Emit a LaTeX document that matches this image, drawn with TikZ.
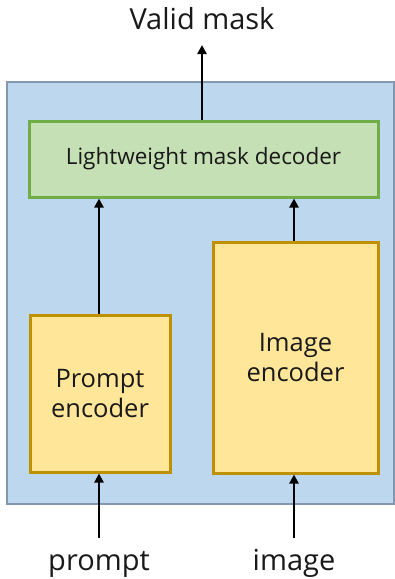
\documentclass[tikz,border=0pt]{standalone}
\usepackage{fontspec}
\setmainfont{Open Sans}
\usetikzlibrary{arrows.meta}
\definecolor{bgblue}{HTML}{BDD7EE}
\definecolor{bgborder}{HTML}{8497B0}
\definecolor{decfill}{HTML}{C5E0B4}
\definecolor{decborder}{HTML}{70AD47}
\definecolor{encfill}{HTML}{FFE699}
\definecolor{encborder}{HTML}{BF9000}
\tikzset{
  box/.style={draw, line width=3pt, inner sep=0pt, align=center, text=black!90},
  decbox/.style={box, fill=decfill, draw=decborder},
  encbox/.style={box, fill=encfill, draw=encborder},
  flow/.style={line width=2.8pt, -{Triangle[length=9pt,width=9pt]}},
  lbl/.style={inner sep=0pt, text=black!90, anchor=base}
}
\begin{document}
\begin{tikzpicture}[x=1pt,y=-1pt]
\useasboundingbox (0,0) rectangle (395,579);
\node[draw=bgborder, fill=bgblue, line width=1.2pt, minimum width=387pt, minimum height=422pt, inner sep=0pt] (bg) at (200.5,293) {};
\node[decbox, minimum width=349pt, minimum height=76pt, font=\fontsize{22.5}{26}\selectfont] (dec) at (203.5,159) {Lightweight mask decoder};
\node[encbox, minimum width=140pt, minimum height=157pt, font=\fontsize{25.5}{30}\selectfont] (pe) at (100,393.5) {Prompt\\encoder};
\node[encbox, minimum width=165pt, minimum height=231pt, font=\fontsize{25.5}{30}\selectfont] (ie) at (295.5,357.5) {Image\\encoder};
\node[lbl, font=\fontsize{29}{32}\selectfont] (vm) at (202,29) {Valid mask};
\node[lbl, font=\fontsize{29}{32}\selectfont] (pr) at (99,570) {prompt};
\node[lbl, font=\fontsize{29}{32}\selectfont] (im) at (294,570) {image};
\coordinate (pin) at (99,538);
\coordinate (iin) at (294,538);
\coordinate (vout) at (202,45);
\draw[flow] (dec.north -| vout) -- (vout);
\draw[flow] (pe.north -| pin) -- (dec.south -| pin);
\draw[flow] (ie.north -| iin) -- (dec.south -| iin);
\draw[flow] (pin) -- (pe.south -| pin);
\draw[flow] (iin) -- (ie.south -| iin);
\end{tikzpicture}
\end{document}
